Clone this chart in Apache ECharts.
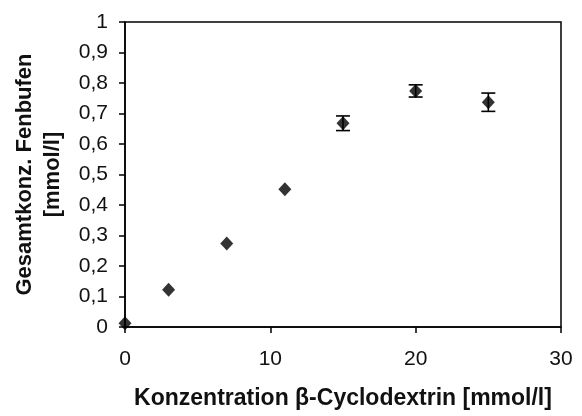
<!DOCTYPE html>
<html><head><meta charset="utf-8">
<script src="https://cdn.jsdelivr.net/npm/echarts@6/dist/echarts.min.js"></script>
<style>html,body{margin:0;padding:0;background:#fff}#c{width:582px;height:416px}</style>
</head><body><div id="c"></div>
<script>
const xValues = [0, 3, 7, 11, 15, 20, 25];
const yValues = [0.012, 0.122, 0.274, 0.452, 0.668, 0.774, 0.737];
const yErrors = [0, 0, 0, 0, 0.024, 0.02, 0.03];
const xTitle = 'Konzentration β-Cyclodextrin [mmol/l]';
const yTitle = 'Gesamtkonz. Fenbufen\n[mmol/l]';

const FONT = '"Liberation Sans", Arial, sans-serif';
const points = xValues.map((x, i) => [x, yValues[i]]);
const bars = xValues.map((x, i) => [x, yValues[i] - yErrors[i], yValues[i] + yErrors[i]]);

const chart = echarts.init(document.getElementById('c'), null, {renderer: 'canvas'});
chart.setOption({
  animation: false,
  backgroundColor: '#fff',
  grid: {left: 125, right: 21, top: 22, bottom: 89, show: true, borderColor: '#000', borderWidth: 1.5,
    backgroundColor: 'transparent', containLabel: false, outerBoundsMode: 'none'},
  xAxis: {
    type: 'value', min: 0, max: 30, interval: 10,
    name: xTitle, nameLocation: 'middle', nameGap: 60,
    nameTextStyle: {fontFamily: FONT, fontSize: 23, fontWeight: 'bold', color: '#111'},
    axisLine: {show: true, lineStyle: {color: '#000', width: 1.5}},
    axisTick: {show: true, inside: false, length: 6, lineStyle: {color: '#000', width: 1.5}},
    axisLabel: {fontFamily: FONT, fontSize: 21, color: '#111', margin: 22},
    splitLine: {show: false}
  },
  yAxis: {
    type: 'value', min: 0, max: 1, interval: 0.1,
    name: yTitle, nameLocation: 'middle', nameGap: 58, nameRotate: 90,
    nameTextStyle: {fontFamily: FONT, fontSize: 22, fontWeight: 'bold', color: '#111', lineHeight: 28},
    axisLine: {show: true, lineStyle: {color: '#000', width: 1.5}},
    axisTick: {show: true, inside: false, length: 6, lineStyle: {color: '#000', width: 1.5}},
    axisLabel: {fontFamily: FONT, fontSize: 21, color: '#111', margin: 17,
      formatter: v => String(Math.round(v * 10) / 10).replace('.', ',')},
    splitLine: {show: false}
  },
  series: [
    {
      type: 'custom',
      data: bars,
      z: 3,
      renderItem: function (params, api) {
        const x = api.value(0), lo = api.value(1), hi = api.value(2);
        if (hi - lo <= 0) return null;
        const pt = api.coord([x, hi]), pb = api.coord([x, lo]);
        const w = 7;
        const st = {stroke: '#000', lineWidth: 1.6};
        return {type: 'group', children: [
          {type: 'line', shape: {x1: pt[0], y1: pt[1], x2: pb[0], y2: pb[1]}, style: st},
          {type: 'line', shape: {x1: pt[0] - w, y1: pt[1], x2: pt[0] + w, y2: pt[1]}, style: st},
          {type: 'line', shape: {x1: pb[0] - w, y1: pb[1], x2: pb[0] + w, y2: pb[1]}, style: st}
        ]};
      }
    },
    {
      type: 'scatter',
      data: points,
      symbol: 'diamond',
      symbolSize: [13, 14],
      itemStyle: {color: '#000'},
      z: 4
    }
  ]
});
</script>
</body></html>
